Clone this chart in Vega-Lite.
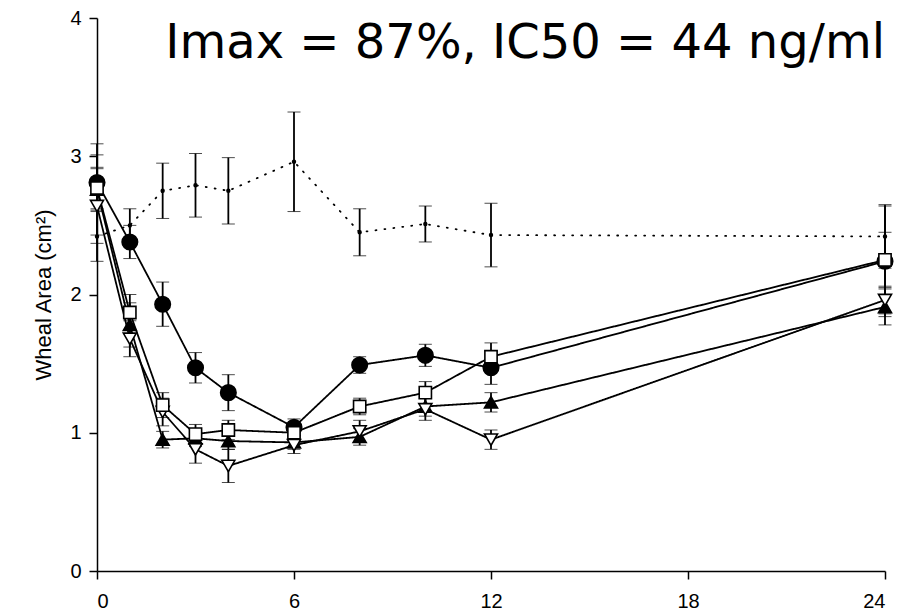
{
  "$schema": "https://vega.github.io/schema/vega-lite/v6.json",
  "autosize": {"type": "none"},
  "width": 788,
  "height": 553,
  "padding": {"left": 97, "top": 18, "right": 25, "bottom": 41},
  "background": "white",
  "title": {
    "text": "Imax = 87%, IC50 = 44 ng/ml",
    "font": "DejaVu Sans",
    "fontSize": 48,
    "fontWeight": "normal",
    "color": "black",
    "anchor": "end",
    "frame": "group",
    "baseline": "alphabetic",
    "offset": -44,
    "dy": 54
  },
  "data": {
    "values": [
      {"series": "P", "time": 0, "mean": 2.42, "err": 0.18},
      {"series": "P", "time": 1, "mean": 2.50, "err": 0.12},
      {"series": "P", "time": 2, "mean": 2.75, "err": 0.20},
      {"series": "P", "time": 3, "mean": 2.79, "err": 0.23},
      {"series": "P", "time": 4, "mean": 2.75, "err": 0.24},
      {"series": "P", "time": 6, "mean": 2.96, "err": 0.36},
      {"series": "P", "time": 8, "mean": 2.45, "err": 0.17},
      {"series": "P", "time": 10, "mean": 2.51, "err": 0.13},
      {"series": "P", "time": 12, "mean": 2.43, "err": 0.23},
      {"series": "P", "time": 24, "mean": 2.42, "err": 0.23},
      {"series": "C", "time": 0, "mean": 2.81, "err": 0.2},
      {"series": "C", "time": 1, "mean": 2.38, "err": 0.12},
      {"series": "C", "time": 2, "mean": 1.93, "err": 0.16},
      {"series": "C", "time": 3, "mean": 1.47, "err": 0.11},
      {"series": "C", "time": 4, "mean": 1.29, "err": 0.13},
      {"series": "C", "time": 6, "mean": 1.04, "err": 0.06},
      {"series": "C", "time": 8, "mean": 1.49, "err": 0.06},
      {"series": "C", "time": 10, "mean": 1.56, "err": 0.08},
      {"series": "C", "time": 12, "mean": 1.47, "err": 0.12},
      {"series": "C", "time": 24, "mean": 2.24, "err": 0.4},
      {"series": "T", "time": 0, "mean": 2.76, "err": 0.33},
      {"series": "T", "time": 1, "mean": 1.78, "err": 0.16},
      {"series": "T", "time": 2, "mean": 0.95, "err": 0.06},
      {"series": "T", "time": 3, "mean": 0.96, "err": 0.06},
      {"series": "T", "time": 4, "mean": 0.94, "err": 0.06},
      {"series": "T", "time": 6, "mean": 0.93, "err": 0.05},
      {"series": "T", "time": 8, "mean": 0.97, "err": 0.06},
      {"series": "T", "time": 10, "mean": 1.19, "err": 0.07},
      {"series": "T", "time": 12, "mean": 1.22, "err": 0.07},
      {"series": "T", "time": 24, "mean": 1.91, "err": 0.13},
      {"series": "D", "time": 0, "mean": 2.64, "err": 0.27},
      {"series": "D", "time": 1, "mean": 1.68, "err": 0.13},
      {"series": "D", "time": 2, "mean": 1.15, "err": 0.1},
      {"series": "D", "time": 3, "mean": 0.88, "err": 0.1},
      {"series": "D", "time": 4, "mean": 0.76, "err": 0.12},
      {"series": "D", "time": 6, "mean": 0.91, "err": 0.06},
      {"series": "D", "time": 8, "mean": 1.01, "err": 0.08},
      {"series": "D", "time": 10, "mean": 1.17, "err": 0.08},
      {"series": "D", "time": 12, "mean": 0.95, "err": 0.07},
      {"series": "D", "time": 24, "mean": 1.96, "err": 0.1},
      {"series": "S", "time": 0, "mean": 2.77, "err": 0.15},
      {"series": "S", "time": 1, "mean": 1.87, "err": 0.13},
      {"series": "S", "time": 2, "mean": 1.20, "err": 0.09},
      {"series": "S", "time": 3, "mean": 0.99, "err": 0.07},
      {"series": "S", "time": 4, "mean": 1.02, "err": 0.07},
      {"series": "S", "time": 6, "mean": 1.00, "err": 0.06},
      {"series": "S", "time": 8, "mean": 1.19, "err": 0.06},
      {"series": "S", "time": 10, "mean": 1.29, "err": 0.08},
      {"series": "S", "time": 12, "mean": 1.55, "err": 0.1},
      {"series": "S", "time": 24, "mean": 2.25, "err": 0.2}
    ]
  },
  "encoding": {
    "x": {
      "field": "time", "type": "quantitative",
      "scale": {"domain": [0, 24], "nice": false, "zero": false},
      "axis": {
        "values": [0, 6, 12, 18, 24], "title": null, "labelPadding": 12,
        "labelFont": "Liberation Sans", "labelFontSize": 20, "labelColor": "black",
        "domainColor": "black", "domainWidth": 1.5, "tickColor": "black", "tickWidth": 1.5, "tickSize": 8, "grid": false
      }
    },
    "y": {
      "field": "mean", "type": "quantitative",
      "scale": {"domain": [0, 4], "nice": false},
      "axis": {
        "values": [0, 1, 2, 3, 4], "format": "d", "title": "Wheal Area (cm²)",
        "titlePadding": 14, "labelPadding": 8,
        "labelFont": "Liberation Sans", "labelFontSize": 20, "labelColor": "black",
        "titleFont": "Liberation Sans", "titleFontSize": 22, "titleFontWeight": "normal", "titleColor": "black",
        "domainColor": "black", "domainWidth": 1.5, "tickColor": "black", "tickWidth": 1.5, "tickSize": 8, "grid": false
      }
    }
  },
  "layer": [
    {
      "mark": {
        "type": "errorbar",
        "rule": {"color": "black", "strokeWidth": 1.8},
        "ticks": {"color": "black", "strokeWidth": 1.8, "size": 13}
      },
      "encoding": {
        "yError": {"field": "err"}
      }
    },
    {
      "mark": {"type": "line", "color": "black", "strokeWidth": 1.8, "strokeCap": "round"},
      "encoding": {
        "detail": {"field": "series"},
        "strokeDash": {
          "field": "series", "type": "nominal",
          "scale": {"type": "ordinal", "domain": ["P", "C", "S", "T", "D"], "range": [[1, 8], [1, 0], [1, 0], [1, 0], [1, 0]]},
          "legend": null
        }
      }
    },
    {
      "mark": {"type": "point", "filled": true, "stroke": "black", "strokeWidth": 1.6, "opacity": 1},
      "encoding": {
        "shape": {
          "field": "series", "type": "nominal",
          "scale": {"domain": ["P", "C", "S", "T", "D"], "range": ["circle", "circle", "square", "triangle-up", "triangle-down"]},
          "legend": null
        },
        "fill": {
          "field": "series", "type": "nominal",
          "scale": {"domain": ["P", "C", "S", "T", "D"], "range": ["black", "black", "white", "black", "white"]},
          "legend": null
        },
        "size": {
          "field": "series", "type": "nominal",
          "scale": {"type": "ordinal", "domain": ["P", "C", "S", "T", "D"], "range": [8, 240, 150, 170, 170]},
          "legend": null
        }
      }
    }
  ],
  "config": {
    "view": {"stroke": null}
  }
}
